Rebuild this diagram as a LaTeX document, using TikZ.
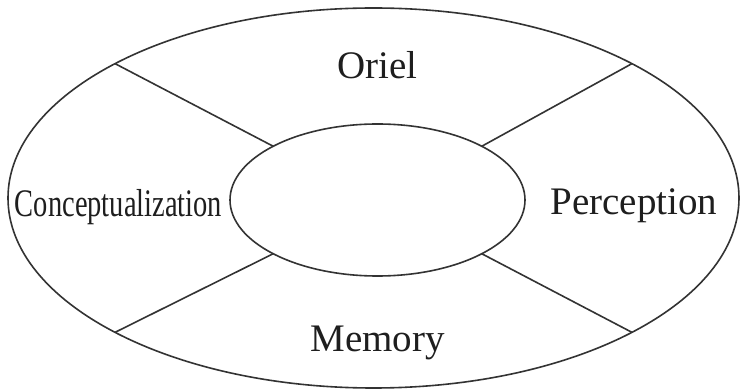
\documentclass[tikz,border=0pt]{standalone}
\usepackage{fontspec}
\setmainfont{Liberation Serif}
\usetikzlibrary{shapes.geometric,calc}
\definecolor{ink}{HTML}{333333}
\definecolor{txt}{HTML}{1E1E1E}
\tikzset{
  ring/.style={ellipse, draw=ink, line width=1.6pt, inner sep=0pt, outer sep=0pt},
  divider/.style={draw=ink, line width=1.6pt},
  label/.style={anchor=base, inner sep=0pt, text=txt, font=\fontsize{39}{41}\selectfont}
}
\begin{document}
\begin{tikzpicture}[x=1pt,y=1pt]
  \fill[white] (0,0) rectangle (742,391);
  \useasboundingbox (0,0) rectangle (742,391);
  \node[ring, minimum width=731pt, minimum height=380pt] (outer) at (373.5,193) {};
  \node[ring, minimum width=295pt, minimum height=152pt] (inner) at (377.5,191) {};
  \foreach \a/\n in {45/a,135/b,225/c,315/d}{
    \coordinate (o\n) at ($(outer.center)+(\a:365.5 and 190)$);
    \coordinate (i\n) at ($(inner.center)+(\a:147.5 and 76)$);
  }
  \draw[divider] (ob) -- (ib);
  \draw[divider] (oa) -- (ia);
  \draw[divider] (oc) -- (ic);
  \draw[divider] (od) -- (id);
  \node[label] (oriel) at (377.5,312) {Oriel};
  \node[label] (perc) at (634,176) {Perception};
  \node[label] (conc) at (118.5,174) {\scalebox{0.73}[1]{Conceptualization}};
  \node[label] (mem) at (377.5,39) {Memory};
\end{tikzpicture}
\end{document}
